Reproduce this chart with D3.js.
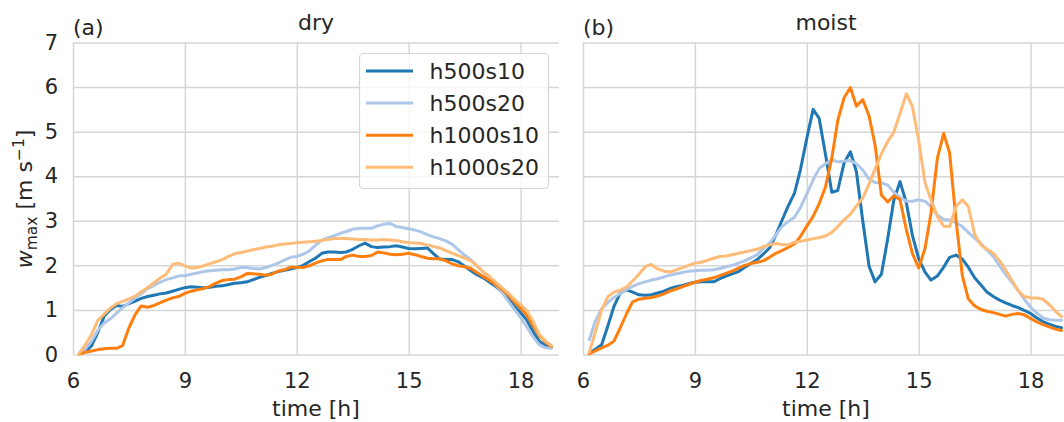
<!DOCTYPE html>
<html>
<head>
<meta charset="utf-8">
<script src="https://cdn.jsdelivr.net/npm/d3@7"></script>
<style>
  html, body { margin: 0; padding: 0; background: #ffffff; }
  svg { display: block; }
  text { font-family: "DejaVu Sans", sans-serif; fill: #262626; }
</style>
</head>
<body>
<svg id="chart" width="1064" height="422"></svg>
<script>
// ---------------- data ----------------
const times = [6.17,6.33,6.5,6.67,6.83,
  7,7.17,7.33,7.5,7.67,7.83, 8,8.17,8.33,8.5,8.67,8.83, 9,9.17,9.33,9.5,9.67,9.83,
  10,10.17,10.33,10.5,10.67,10.83, 11,11.17,11.33,11.5,11.67,11.83, 12,12.17,12.33,12.5,12.67,12.83,
  13,13.17,13.33,13.5,13.67,13.83, 14,14.17,14.33,14.5,14.67,14.83, 15,15.17,15.33,15.5,15.67,15.83,
  16,16.17,16.33,16.5,16.67,16.83, 17,17.17,17.33,17.5,17.67,17.83, 18,18.17,18.33,18.5,18.67,18.83];

const seriesNames = ["h500s10", "h500s20", "h1000s10", "h1000s20"];
const seriesColors = ["#1f77b4", "#aec7e8", "#ff7f0e", "#ffbb78"];

const dryH500s10 = [0.02,0.06,0.2,0.5,0.85,
  1.01,1.1,1.08,1.14,1.2,1.26, 1.3,1.33,1.36,1.38,1.42,1.46, 1.5,1.52,1.51,1.5,1.51,1.53,
  1.54,1.57,1.6,1.61,1.63,1.68, 1.73,1.77,1.82,1.86,1.89,1.92, 1.95,2.0,2.08,2.16,2.27,2.3,
  2.3,2.29,2.3,2.36,2.44,2.5, 2.42,2.4,2.41,2.42,2.44,2.41, 2.38,2.37,2.38,2.39,2.26,2.14,
  2.13,2.13,2.08,1.98,1.88,1.79, 1.72,1.62,1.53,1.41,1.25,1.09, 0.94,0.77,0.52,0.3,0.2,0.17];
const dryH500s20 = [0.02,0.12,0.3,0.55,0.7,
  0.8,0.93,1.05,1.16,1.27,1.37, 1.48,1.55,1.62,1.68,1.72,1.76, 1.77,1.8,1.83,1.86,1.88,1.89,
  1.9,1.9,1.92,1.95,1.95,1.93, 1.92,1.95,2.0,2.05,2.12,2.18, 2.2,2.25,2.32,2.45,2.56,2.62,
  2.66,2.72,2.76,2.81,2.83,2.83, 2.83,2.89,2.92,2.94,2.87,2.85, 2.82,2.79,2.75,2.69,2.64,2.6,
  2.55,2.47,2.35,2.23,2.12,1.99, 1.85,1.71,1.56,1.4,1.2,1.02, 0.83,0.62,0.4,0.22,0.15,0.14];
const dryH1000s10 = [0.01,0.05,0.08,0.11,0.13,
  0.14,0.14,0.2,0.6,0.9,1.09, 1.06,1.1,1.16,1.22,1.27,1.3, 1.37,1.42,1.45,1.48,1.53,1.6,
  1.66,1.68,1.69,1.74,1.82,1.81, 1.8,1.78,1.8,1.87,1.9,1.96, 1.96,1.95,1.99,2.05,2.1,2.13,
  2.13,2.13,2.2,2.23,2.2,2.2, 2.22,2.3,2.28,2.25,2.24,2.25, 2.27,2.24,2.2,2.16,2.15,2.15,
  2.1,2.03,1.99,1.97,1.93,1.84, 1.75,1.66,1.57,1.46,1.34,1.18, 1.04,0.88,0.65,0.42,0.28,0.18];
const dryH1000s20 = [0.03,0.22,0.45,0.77,0.9,
  1.04,1.14,1.19,1.25,1.31,1.41, 1.5,1.61,1.71,1.8,2.02,2.05, 1.99,1.94,1.95,1.99,2.04,2.08,
  2.13,2.2,2.26,2.29,2.32,2.35, 2.38,2.41,2.43,2.46,2.48,2.49, 2.51,2.52,2.53,2.54,2.56,2.58,
  2.6,2.6,2.6,2.59,2.58,2.58, 2.57,2.57,2.58,2.57,2.56,2.53, 2.51,2.5,2.49,2.46,2.42,2.39,
  2.33,2.27,2.22,2.16,2.1,1.99, 1.86,1.75,1.62,1.5,1.38,1.24, 1.12,0.98,0.75,0.45,0.3,0.2];

const moistH500s10 = [0.03,0.12,0.22,0.65,1.08,
  1.38,1.45,1.4,1.34,1.33,1.34, 1.38,1.42,1.48,1.52,1.55,1.59, 1.62,1.63,1.63,1.63,1.7,1.76,
  1.81,1.86,1.95,2.04,2.13,2.25, 2.39,2.68,3.0,3.33,3.62,4.15, 4.85,5.5,5.3,4.5,3.64,3.68,
  4.3,4.55,4.1,3.0,1.98,1.63, 1.8,2.6,3.45,3.88,3.4,2.68, 2.15,1.85,1.67,1.76,1.96,2.18,
  2.23,2.14,1.96,1.72,1.56,1.4, 1.3,1.22,1.16,1.1,1.05,0.99, 0.92,0.82,0.74,0.68,0.63,0.6];
const moistH500s20 = [0.33,0.75,1.03,1.17,1.28,
  1.37,1.46,1.53,1.59,1.63,1.67, 1.7,1.74,1.78,1.81,1.84,1.87, 1.88,1.89,1.89,1.9,1.93,1.97,
  2.0,2.05,2.1,2.17,2.24,2.37, 2.5,2.68,2.87,2.98,3.08,3.3, 3.6,3.92,4.17,4.28,4.37,4.32,
  4.34,4.35,4.28,4.14,3.93,3.86, 3.85,3.8,3.64,3.53,3.44,3.44, 3.47,3.44,3.32,3.13,3.03,3.02,
  2.96,2.87,2.74,2.61,2.49,2.34, 2.2,1.99,1.8,1.62,1.43,1.24, 1.06,0.93,0.82,0.78,0.77,0.77];
const moistH1000s10 = [0.02,0.08,0.15,0.21,0.3,
  0.6,0.92,1.18,1.24,1.26,1.28, 1.31,1.36,1.42,1.47,1.52,1.57, 1.62,1.66,1.69,1.72,1.77,1.82,
  1.87,1.94,2.0,2.04,2.07,2.1, 2.18,2.27,2.33,2.4,2.48,2.65, 2.88,3.1,3.38,3.76,4.4,5.25,
  5.76,5.99,5.57,5.72,5.35,4.7, 3.58,3.42,3.56,3.47,2.8,2.27, 1.94,2.38,3.17,4.4,4.96,4.52,
  3.02,1.77,1.25,1.09,1.01,0.97, 0.94,0.9,0.86,0.9,0.92,0.89, 0.81,0.73,0.67,0.62,0.57,0.54];
const moistH1000s20 = [0.05,0.5,1.0,1.3,1.4,
  1.44,1.52,1.65,1.8,1.97,2.02, 1.92,1.87,1.85,1.9,1.95,2.0, 2.05,2.07,2.11,2.16,2.2,2.21,
  2.24,2.27,2.3,2.33,2.36,2.42, 2.46,2.49,2.47,2.46,2.52,2.54, 2.57,2.6,2.62,2.66,2.74,2.87,
  3.02,3.15,3.33,3.51,3.82,4.16, 4.5,4.78,4.98,5.41,5.85,5.57, 4.8,3.86,3.47,3.1,2.88,2.87,
  3.32,3.47,3.32,2.7,2.46,2.36, 2.27,2.1,1.9,1.66,1.43,1.3, 1.27,1.27,1.24,1.12,0.97,0.85];

const xTicks = [6, 9, 12, 15, 18];
const yTicks = [0, 1, 2, 3, 4, 5, 6, 7];
const panelTitles = ["dry", "moist"];
const panelTags = ["(a)", "(b)"];
const xLabel = "time [h]";

// ---------------- layout ----------------
const svg = d3.select("#chart");
const plotTop = 42.5, plotBottom = 354.5;
const panelX = [[73, 559], [583, 1069]];
const panelData = [
  [dryH500s10, dryH500s20, dryH1000s10, dryH1000s20],
  [moistH500s10, moistH500s20, moistH1000s10, moistH1000s20]
];
const FS = 22, TICKFS = 21;

const y = d3.scaleLinear().domain([0, 7]).range([plotBottom, plotTop]);
const gridColor = "#d6d6d6";

svg.append("defs").selectAll("clipPath").data(panelX).join("clipPath")
  .attr("id", (d, i) => "clip" + i)
  .append("rect").attr("x", d => d[0]).attr("y", plotTop - 3)
  .attr("width", d => d[1] - d[0]).attr("height", plotBottom - plotTop + 6);

panelX.forEach((px, pi) => {
  const x = d3.scaleLinear().domain([6, 19.03]).range(px);
  const g = svg.append("g");

  const ya = g.append("g").attr("transform", `translate(${px[0]},0)`)
    .call(d3.axisLeft(y).tickValues(yTicks).tickFormat(d3.format("d"))
      .tickSize(-(px[1] - px[0])).tickPadding(15));
  ya.select(".domain").remove();
  ya.selectAll(".tick line").attr("stroke", gridColor).attr("stroke-width", 1.5);
  ya.selectAll(".tick text").attr("font-size", TICKFS).attr("fill", "#262626")
    .attr("font-family", "DejaVu Sans").style("display", pi === 0 ? null : "none");

  const xa = g.append("g").attr("transform", `translate(0,${plotBottom})`)
    .call(d3.axisBottom(x).tickValues(xTicks).tickFormat(d3.format("d"))
      .tickSize(-(plotBottom - plotTop)).tickPadding(18.5));
  xa.select(".domain").remove();
  xa.selectAll(".tick line").attr("stroke", gridColor).attr("stroke-width", 1.5);
  xa.selectAll(".tick text").attr("font-size", TICKFS).attr("fill", "#262626")
    .attr("font-family", "DejaVu Sans");

  const line = d3.line().x((d, i) => x(times[i])).y(d => y(d));
  g.append("g").attr("clip-path", `url(#clip${pi})`)
    .selectAll("path").data(panelData[pi]).join("path")
    .attr("d", d => line(d))
    .attr("fill", "none")
    .attr("stroke", (d, i) => seriesColors[i])
    .attr("stroke-width", 3)
    .attr("stroke-linejoin", "round")
    .attr("stroke-linecap", "round");

  g.append("text").attr("x", (px[0] + px[1]) / 2).attr("y", 29.5)
    .attr("text-anchor", "middle").attr("font-size", FS).text(panelTitles[pi]);
  g.append("text").attr("x", px[0]).attr("y", 35)
    .attr("font-size", FS).text(panelTags[pi]);

  g.append("text").attr("x", (px[0] + px[1]) / 2).attr("y", 416)
    .attr("text-anchor", "middle").attr("font-size", FS).text(xLabel);
});

const yl = svg.append("text").attr("transform", "translate(32,199) rotate(-90)")
  .attr("text-anchor", "middle").attr("font-size", FS);
yl.append("tspan").attr("font-style", "italic").text("w");
yl.append("tspan").attr("dy", 4.5).attr("font-size", 15.5).text("max");
yl.append("tspan").attr("dy", -4.5).text(" [m s");
yl.append("tspan").attr("dy", -8.5).attr("font-size", 15.5).text("\u22121");
yl.append("tspan").attr("dy", 8.5).text("]");

const leg = svg.append("g");
leg.append("rect").attr("x", 359.5).attr("y", 53.5).attr("width", 189).attr("height", 135)
  .attr("rx", 4).attr("fill", "#ffffff").attr("fill-opacity", 0.8)
  .attr("stroke", "#d6d6d6").attr("stroke-width", 1.2);
const items = leg.selectAll("g.item").data(seriesNames).join("g")
  .attr("class", "item")
  .attr("transform", (d, i) => `translate(0,${71 + i * 32.1})`);
items.append("line").attr("x1", 366).attr("x2", 413)
  .attr("stroke", (d, i) => seriesColors[i]).attr("stroke-width", 3);
items.append("text").attr("x", 429.5).attr("y", 7.8).attr("font-size", FS).text(d => d);
</script>
</body>
</html>
